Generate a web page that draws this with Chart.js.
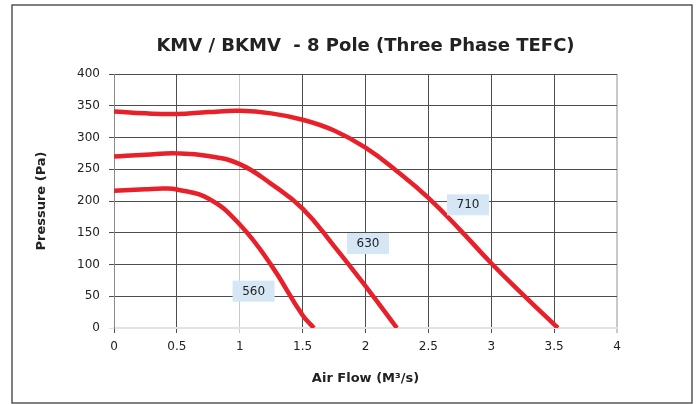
<!DOCTYPE html>
<html>
<head>
<meta charset="utf-8">
<script src="https://cdn.jsdelivr.net/npm/chart.js@4/dist/chart.umd.min.js"></script>
<style>
  html, body { margin: 0; padding: 0; background: #ffffff; }
  canvas { display: block; }
</style>
</head>
<body>
<canvas id="c" width="696" height="404"></canvas>
<script>
// ---- Data ----
const chartTitle = 'KMV / BKMV  - 8 Pole (Three Phase TEFC)';
const xAxisTitle = 'Air Flow (M\u00B3/s)';
const yAxisTitle = 'Pressure (Pa)';

const flow560 = [0, 0.25, 0.4, 0.5, 0.75, 1.0, 1.25, 1.5, 1.59];
const pressure560 = [216, 218.5, 219.5, 218, 204, 163, 99, 20, 0];

const flow630 = [0, 0.25, 0.5, 0.75, 1.0, 1.25, 1.5, 1.75, 2.0, 2.25];
const pressure630 = [270, 273, 275, 271, 258, 227, 188, 129, 66, 0];

const flow710 = [0, 0.25, 0.5, 0.75, 1.0, 1.25, 1.5, 1.75, 2.0, 2.25, 2.5, 2.75, 3.0, 3.25, 3.53];
const pressure710 = [341, 338, 337, 340, 342, 338, 328, 311, 284, 247, 205, 155, 102, 53, 0];

const curveLabels = ['560', '630', '710'];
const curveLabelFlow = [1.11, 2.02, 2.815];
const curveLabelPressure = [58, 133, 194];

const xTickValues = [0, 0.5, 1, 1.5, 2, 2.5, 3, 3.5, 4];
const yTickValues = [0, 50, 100, 150, 200, 250, 300, 350, 400];

// ---- helpers ----
function pts(xs, ys) { return xs.map((x, i) => ({ x: x, y: ys[i] })); }

const RED = '#e8202a';
const GRID_DARK = '#4d4d4d';
const GRID_LIGHT = '#c9c9c9';
const FONT = "'DejaVu Sans', sans-serif";

const frameAndLabels = {
  id: 'frameAndLabels',
  afterDatasetsDraw(chart) {
    const ctx = chart.ctx;
    const xs = chart.scales.x, ys = chart.scales.y;
    ctx.save();
    ctx.font = "12px " + FONT;
    ctx.textAlign = 'center';
    ctx.textBaseline = 'middle';
    for (let i = 0; i < curveLabels.length; i++) {
      const px = xs.getPixelForValue(curveLabelFlow[i]);
      const py = ys.getPixelForValue(curveLabelPressure[i]);
      ctx.fillStyle = '#d5e7f5';
      ctx.fillRect(px - 21, py - 10.5, 42, 21);
      ctx.fillStyle = '#222222';
      ctx.fillText(curveLabels[i], px, py + 0.5);
    }
    ctx.restore();
  },
  afterDraw(chart) {
    const ctx = chart.ctx;
    ctx.save();
    ctx.strokeStyle = '#555555';
    ctx.lineWidth = 1.5;
    ctx.strokeRect(12, 5, 680, 398);
    ctx.restore();
  }
};

const lineStyle = {
  borderColor: RED,
  backgroundColor: RED,
  borderWidth: 4.5,
  pointRadius: 0,
  fill: false,
  tension: 0.45
};

new Chart(document.getElementById('c'), {
  type: 'line',
  data: {
    datasets: [
      Object.assign({ label: '560', data: pts(flow560, pressure560) }, lineStyle),
      Object.assign({ label: '630', data: pts(flow630, pressure630) }, lineStyle),
      Object.assign({ label: '710', data: pts(flow710, pressure710) }, lineStyle)
    ]
  },
  options: {
    responsive: false,
    animation: false,
    devicePixelRatio: 1,
    layout: { padding: { left: 13, right: 79, top: 6, bottom: 0 } },
    plugins: {
      legend: { display: false },
      tooltip: { enabled: false },
      title: {
        display: true,
        text: chartTitle,
        fullSize: false,
        color: '#222222',
        font: { family: FONT, size: 18, weight: 'bold' },
        padding: { top: 30, bottom: 16.4 }
      }
    },
    scales: {
      x: {
        type: 'linear',
        min: 0, max: 4,
        afterBuildTicks(scale) { scale.ticks = xTickValues.map(v => ({ value: v })); },
        afterFit(scale) { scale.height = 76; },
        ticks: {
          color: '#222222',
          font: { family: FONT, size: 12 },
          padding: 7,
          maxRotation: 0,
          callback: v => String(v)
        },
        grid: {
          color: ctx => (ctx.tick && (ctx.tick.value === 1 || ctx.tick.value === 4)) ? GRID_LIGHT : GRID_DARK,
          lineWidth: ctx => (ctx.tick && ctx.tick.value === 4) ? 2 : 1,
          tickLength: 5
        },
        border: { display: true, color: '#e2e2e2', width: 2 },
        title: {
          display: true,
          text: xAxisTitle,
          color: '#222222',
          font: { family: FONT, size: 13, weight: 'bold' },
          padding: { top: 0, bottom: 18 }
        }
      },
      y: {
        type: 'linear',
        min: 0, max: 400,
        afterBuildTicks(scale) { scale.ticks = yTickValues.map(v => ({ value: v })); },
        afterFit(scale) { scale.width = 101; },
        ticks: {
          color: '#222222',
          font: { family: FONT, size: 12 },
          padding: 9
        },
        grid: {
          color: ctx => (ctx.tick && ctx.tick.value === 0) ? '#e2e2e2' : GRID_DARK,
          tickLength: 5
        },
        border: { display: true, color: '#8a8a8a', width: 1 },
        title: {
          display: true,
          text: yAxisTitle,
          color: '#222222',
          font: { family: FONT, size: 13, weight: 'bold' },
          padding: { top: 21, bottom: 0 }
        }
      }
    }
  },
  plugins: [frameAndLabels]
});
</script>
</body>
</html>
